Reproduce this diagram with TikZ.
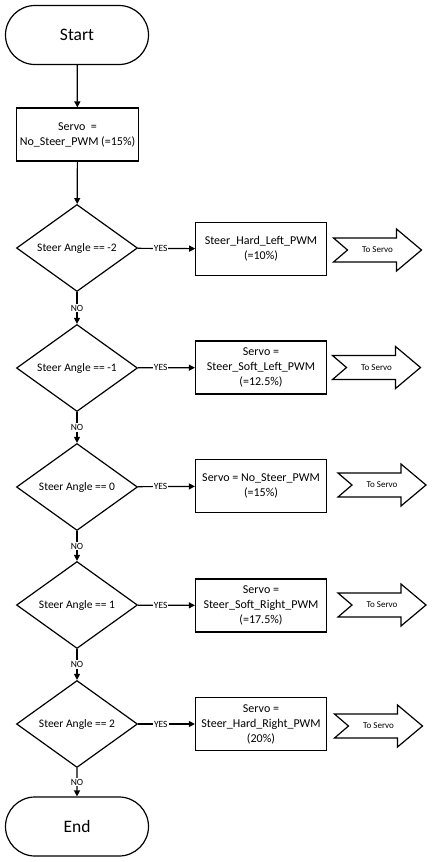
\documentclass[tikz,border=0pt]{standalone}
\usepackage{fontspec}
\setmainfont{Carlito}
\usetikzlibrary{shapes.geometric,shapes.misc,arrows.meta}

\tikzset{every picture/.style={line width=1.2pt}}
\tikzset{
  terminal/.style={draw, rounded rectangle, minimum width=143pt, minimum height=59pt, inner sep=0pt, font=\fontsize{17.5}{20}\selectfont},
  process/.style={draw, rectangle, align=center, minimum width=131pt, minimum height=53pt, inner sep=1pt, font=\fontsize{12}{15}\selectfont},
  decision/.style={draw, diamond, aspect=1.39, minimum width=121pt, minimum height=87pt, inner sep=1pt, font=\fontsize{11.5}{14}\selectfont},
  flow/.style={-{Triangle[length=6pt,width=6pt]}},
  answer/.style={fill=white, inner sep=1pt, font=\fontsize{9.5}{11}\selectfont},
  toservo/.pic={
    \draw[line join=miter] (-44,-12) -- (19,-12) -- (19,-21) -- (44,0) -- (19,21) -- (19,12) -- (-44,12) -- (-30,0) -- cycle;
    \node[inner sep=0pt, font=\fontsize{9}{11}\selectfont] (-text) at (0,0) {To Servo};
  }
}

\begin{document}
\begin{tikzpicture}[x=1pt,y=1pt,yscale=-1,xscale=1]
\useasboundingbox (0,0) rectangle (432,862);

%Terminals
\node[terminal] (start) at (77,35) {Start};
\node[terminal] (end) at (77,826.5) {End};

%Initial servo setting
\node[process, minimum width=122pt] (init) at (77.5,134.5) {Servo~~=\\No\_Steer\_PWM (=15\%)};

%Decisions
\node[decision] (angA) at (77,248) {Steer Angle == -2};
\node[decision] (angB) at (77,368) {Steer Angle == -1};
\node[decision] (angC) at (77,487) {Steer Angle == 0};
\node[decision] (angD) at (77,605) {Steer Angle == 1};
\node[decision] (angE) at (77,724) {Steer Angle == 2};

%Servo settings
\node[process, line width=0.6pt] (pwmA) at (261,249) {Steer\_Hard\_Left\_PWM\\(=10\%)};
\node[process] (pwmB) at (261,367.5) {Servo =\\Steer\_Soft\_Left\_PWM\\(=12.5\%)};
\node[process] (pwmC) at (261,486) {Servo = No\_Steer\_PWM\\(=15\%)};
\node[process] (pwmD) at (261,605.5) {Servo =\\Steer\_Soft\_Right\_PWM\\(=17.5\%)};
\node[process] (pwmE) at (261,724) {Servo =\\Steer\_Hard\_Right\_PWM\\(20\%)};

%To Servo arrows
\pic (servoA) at (377.5,250) {toservo};
\pic (servoB) at (376.5,367.5) {toservo};
\pic (servoC) at (382,485) {toservo};
\pic (servoD) at (382,605) {toservo};
\pic (servoE) at (378.5,726) {toservo};

%Connectors
\draw[flow] (start) -- (init);
\draw[flow] (init) -- (angA);
\draw[flow] (angA) -- node[answer] {NO} (angB);
\draw[flow] (angB) -- node[answer] {NO} (angC);
\draw[flow] (angC) -- node[answer] {NO} (angD);
\draw[flow] (angD) -- node[answer] {NO} (angE);
\draw[flow] (angE) -- node[answer] {NO} (end);
\draw[flow] (angA) -- node[answer, pos=0.4] {YES} (pwmA);
\draw[flow] (angB) -- node[answer, pos=0.4] {YES} (pwmB);
\draw[flow] (angC) -- node[answer, pos=0.4] {YES} (pwmC);
\draw[flow] (angD) -- node[answer, pos=0.4] {YES} (pwmD);
\draw[flow] (angE) -- node[answer, pos=0.4] {YES} (pwmE);

\end{tikzpicture}
\end{document}
